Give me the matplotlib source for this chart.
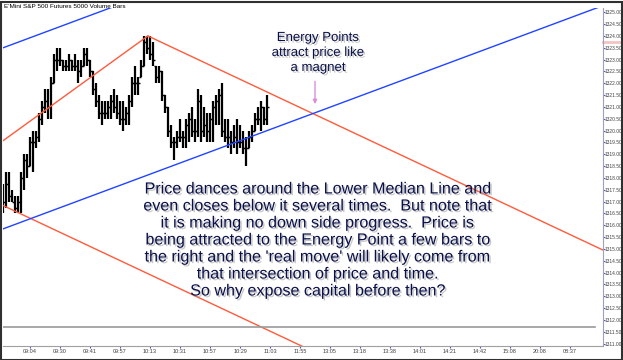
import matplotlib
matplotlib.use("Agg")
import matplotlib.pyplot as plt
import matplotlib.patheffects as pe
from matplotlib.patches import Rectangle
import numpy as np

# OHLC of the 5000 volume bars
highs = [1317.75, 1318.25, 1318.25, 1317.5, 1317.25, 1317.25, 1318.25, 1319.0, 1319.0, 1319.75,
         1320.0, 1320.0, 1320.75, 1321.25, 1321.75, 1321.75, 1322.25, 1323.25, 1323.5, 1323.5,
         1323.0, 1323.0, 1323.25, 1323.0, 1323.25, 1323.0, 1323.0, 1323.5, 1323.5, 1323.0,
         1322.5, 1322.0, 1321.5, 1321.25, 1321.25, 1321.25, 1321.5, 1321.75, 1321.5, 1321.25,
         1321.25, 1321.0, 1321.5, 1322.25, 1322.75, 1322.25, 1323.0, 1324.0, 1324.0, 1324.0,
         1323.75, 1322.75, 1322.75, 1322.5, 1321.5, 1321.0, 1320.25, 1319.75, 1320.0, 1320.5,
         1320.0, 1320.5, 1320.75, 1321.0, 1320.5, 1321.75, 1321.5, 1321.0, 1320.75, 1320.75,
         1321.25, 1321.5, 1321.75, 1322.0, 1320.5, 1320.5, 1320.0, 1320.25, 1320.5, 1320.25,
         1320.0, 1319.75, 1320.0, 1320.25, 1320.75, 1321.0, 1321.25, 1321.0, 1321.5]
lows = [1316.5, 1316.75, 1317.0, 1317.0, 1316.5, 1316.5, 1316.5, 1317.5, 1318.0, 1318.5,
        1318.25, 1319.25, 1319.5, 1320.25, 1320.75, 1320.5, 1320.5, 1322.0, 1322.5, 1322.75,
        1322.5, 1322.5, 1322.5, 1322.5, 1322.5, 1322.0, 1322.25, 1322.75, 1322.75, 1322.25,
        1321.5, 1321.0, 1320.5, 1320.25, 1320.5, 1320.5, 1320.5, 1320.75, 1320.5, 1320.25,
        1320.0, 1320.25, 1320.25, 1321.0, 1321.5, 1321.5, 1322.25, 1322.75, 1323.25, 1323.0,
        1322.75, 1322.0, 1322.0, 1321.25, 1320.75, 1319.75, 1319.25, 1318.75, 1319.25, 1319.5,
        1319.25, 1319.25, 1319.5, 1319.75, 1319.5, 1319.75, 1319.5, 1319.75, 1319.5, 1319.5,
        1319.5, 1320.25, 1320.25, 1319.75, 1319.5, 1319.25, 1319.0, 1319.25, 1319.0, 1319.25,
        1319.0, 1318.5, 1319.25, 1319.5, 1320.0, 1320.25, 1320.0, 1320.25, 1320.25]
opens = [1317.25, 1317.0, 1317.75, 1317.25, 1317.0, 1316.75, 1317.0, 1318.0, 1318.75, 1318.5,
         1319.5, 1319.5, 1319.75, 1320.5, 1321.0, 1321.25, 1321.0, 1322.0, 1323.0, 1323.0,
         1323.0, 1322.75, 1322.75, 1323.0, 1322.75, 1322.75, 1322.5, 1322.75, 1323.25, 1323.0,
         1322.5, 1321.75, 1321.25, 1320.75, 1320.75, 1320.75, 1321.0, 1321.25, 1321.0, 1320.75,
         1320.5, 1320.5, 1320.75, 1321.25, 1322.0, 1322.0, 1322.25, 1322.75, 1323.75, 1323.5,
         1323.25, 1322.75, 1322.25, 1322.5, 1321.5, 1321.0, 1320.0, 1319.5, 1319.5, 1319.75,
         1319.75, 1319.75, 1320.25, 1320.5, 1320.0, 1320.0, 1321.25, 1320.0, 1320.25, 1320.0,
         1320.5, 1321.0, 1321.25, 1321.5, 1320.0, 1319.75, 1319.75, 1319.5, 1319.75, 1319.5,
         1319.5, 1319.25, 1319.25, 1319.75, 1320.0, 1320.5, 1320.5, 1321.0, 1320.5]
closes = [1317.0, 1317.75, 1317.25, 1317.0, 1316.75, 1317.0, 1318.0, 1318.75, 1318.5, 1319.5,
          1319.5, 1319.75, 1320.5, 1321.0, 1321.25, 1321.0, 1322.0, 1323.0, 1323.0, 1323.0,
          1322.75, 1322.75, 1323.0, 1322.75, 1322.75, 1322.5, 1322.75, 1323.25, 1323.0, 1322.5,
          1321.75, 1321.25, 1320.75, 1320.75, 1320.75, 1321.0, 1321.25, 1321.0, 1320.75, 1320.5,
          1320.5, 1320.75, 1321.25, 1322.0, 1322.0, 1322.0, 1322.75, 1323.75, 1323.5, 1323.25,
          1323.0, 1322.25, 1322.5, 1321.5, 1321.0, 1320.0, 1319.5, 1319.5, 1319.75, 1319.75,
          1319.75, 1320.25, 1320.5, 1320.0, 1320.0, 1321.25, 1320.0, 1320.25, 1320.0, 1320.5,
          1321.0, 1321.25, 1321.5, 1320.0, 1319.75, 1319.75, 1319.5, 1319.75, 1319.5, 1319.5,
          1319.25, 1319.25, 1319.75, 1320.0, 1320.5, 1320.5, 1321.0, 1320.5, 1321.0]

time_labels = ["09:04", "09:30", "09:41", "09:57", "10:13", "10:31", "10:57", "10:29", "11:03",
               "11:55", "13:05", "13:18", "13:38", "14:01", "14:21", "14:42", "15:08", "20:08",
               "08:37"]
price_ticks = np.arange(1311.0, 1325.01, 0.5)

# drawing tool anchors (bar index, price)
peak = (48.3, 1324.0)
energy_point = (103.3, 1320.72)
red_up_start = (-1.0, 1319.48)
red_low_start = (-0.4, 1316.86)
blue_low_start = (-1.0, 1315.80)
blue_up_start = (-1.0, 1323.45)
last_price = 1323.75
divider_price = 1311.7

W, H = 623, 360
fig = plt.figure(figsize=(W / 100, H / 100), dpi=100)
fig.patch.set_facecolor("white")
ax = fig.add_axes([3 / W, 1 - 346 / H, 600 / W, 338 / H])
ax.set_facecolor("white")

x = np.arange(len(highs))
ax.vlines(x, lows, highs, color="black", lw=1.6)
ax.hlines(opens, x - 0.55, x, color="black", lw=1)
ax.hlines(closes, x, x + 0.55, color="black", lw=1)

red = "#ff5a3c"
blue = "#2244ff"
ax.plot([red_up_start[0], peak[0]], [red_up_start[1], peak[1]], color=red, lw=1)
slope_r = (energy_point[1] - peak[1]) / (energy_point[0] - peak[0])
ax.plot([peak[0], 260], [peak[1], peak[1] + slope_r * (260 - peak[0])], color=red, lw=1)
ax.plot([red_low_start[0], 260], [red_low_start[1], red_low_start[1] + slope_r * (260 - red_low_start[0])],
        color=red, lw=1)
slope_b = (energy_point[1] - blue_low_start[1]) / (energy_point[0] - blue_low_start[0])
for st in (blue_low_start, blue_up_start):
    ax.plot([st[0], 260], [st[1], st[1] + slope_b * (260 - st[0])], color=blue, lw=1)

ax.axhline(divider_price, xmin=0, xmax=592 / 600, color="#9a9a9a", lw=1.2)
ax.plot([1.0, 1.03], [last_price, last_price], transform=ax.get_yaxis_transform(),
        color="#f4c4c4", lw=2, clip_on=False)

ax.set_xlim(0, 200)
ax.set_ylim(1310.90, 1325.18)

for s in ("top", "left"):
    ax.spines[s].set_visible(False)
ax.spines["bottom"].set_color("#a0a0a0")
ax.spines["right"].set_color("#a0a0b8")
ax.yaxis.tick_right()
ax.set_yticks(price_ticks)
ax.set_yticklabels(["%.2f" % p for p in price_ticks])
ax.set_xticks(range(9, 190, 10))
ax.set_xticklabels(time_labels)
ax.tick_params(axis="y", length=1.2, width=0.8, color="#5050c0", pad=0.2, labelsize=3.5, labelcolor="#404040")
ax.tick_params(axis="x", length=1.5, width=0.8, color="#5050c0", pad=0.5, labelsize=4, labelcolor="#404040")
for lab in ax.get_xticklabels() + ax.get_yticklabels():
    lab.set_family("Liberation Sans")

fig.text(4 / W, 1 - 7 / H, "E'Mini S&P 500 Futures 5000 Volume Bars", fontsize=4.6,
         family="Liberation Sans", va="center", ha="left", color="black")

navy = "#0a1048"
shadow = [pe.withSimplePatchShadow(offset=(1.2, -1.2), shadow_rgbFace="#909090", alpha=0.5)]
energy_lines = ["Energy Points", "attract price like", "a magnet"]
for k, line in enumerate(energy_lines):
    fig.text(318 / W, 1 - (38 + 15 * k) / H, line, fontsize=9.5, family="Liberation Sans",
             ha="center", va="center", color=navy, path_effects=shadow)

note_lines = ["Price dances around the Lower Median Line and",
              "even closes below it several times.  But note that",
              "it is making no down side progress.  Price is",
              "being attracted to the Energy Point a few bars to",
              "the right and the 'real move' will likely come from",
              "that intersection of price and time.",
              "So why expose capital before then?"]
for k, line in enumerate(note_lines):
    fig.text(318 / W, 1 - (189 + 17 * k) / H, line, fontsize=11.6, family="Liberation Sans",
             ha="center", va="center", color=navy, path_effects=shadow)

ax.annotate("", xy=(104, 1321.0), xytext=(104, 1322.2),
            arrowprops=dict(arrowstyle="-|>", color="#d890d8", lw=1, mutation_scale=6))

fig.add_artist(Rectangle((0.5 / W, 0.5 / H), 1 - 2 / W, 1 - 2 / H, transform=fig.transFigure,
                         fill=False, edgecolor="#303030", lw=1.5))

fig.savefig("out.png", dpi=100)
